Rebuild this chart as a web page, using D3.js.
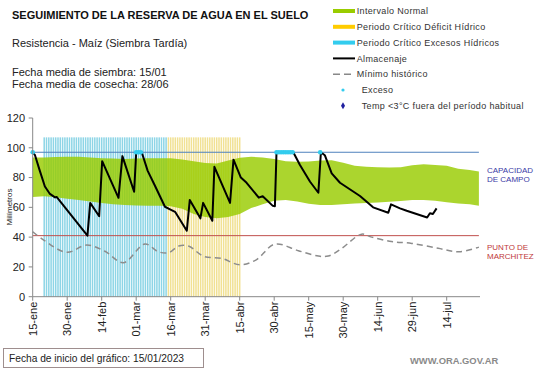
<!DOCTYPE html>
<html>
<head>
<meta charset="utf-8">
<script src="https://cdn.jsdelivr.net/npm/d3@7"></script>
<style>
  body { margin: 0; background: #fff; }
  svg { display: block; font-family: Arial, "Liberation Sans", sans-serif; }
</style>
</head>
<body>
<div id="chart"></div>
<script>
// ---- data (x = days since 15-ene) ----
var tickLabels = ["15-ene","30-ene","14-feb","01-mar","16-mar","31-mar","15-abr","30-abr","15-may","30-may","14-jun","29-jun","14-jul"];
var yTicks = [0, 20, 40, 60, 80, 100, 120];

var capacidadCampo = 97;
var puntoMarchitez = 41;
var alturaPeriodo = 107;
var periodoExcesos = [5, 58];   // first / last day
var periodoDeficit = [59, 90];

var bandaDias = [0,5,10,15,20,25,30,35,40,45,50,55,60,65,70,75,80,85,90,95,100,105,110,115,120,125,130,135,140,145,150,155,160,165,170,175,180,185,190,194];
var bandaSup  = [93.5,93.5,93.8,94,94,93.5,93,92.8,92.5,92.8,93,93,93,92.2,91,89.8,89.5,91.5,93.3,94,93.5,92.5,91,90.6,90.8,91.5,91.7,90,88,87.2,87,86.8,87,88.2,88.9,88.5,88,86,85,84];
var bandaInf  = [67,67.5,66.8,65.8,65,64,63,62,61.5,61.2,61,61,60.8,59,55.5,53.5,52.7,53.5,55.5,59.5,62,64.5,65,64,62.5,61.5,61.5,62,62.6,63,63.3,63.8,64.3,65,65,64.5,63.5,62.6,62,61];

var almacenaje = [[0,97],[1,95],[3,85],[5.3,74],[7.5,69],[9.7,66.7],[10.4,67],[23.8,41],[25,63],[28.9,54],[30.2,91],
  [37.3,66.4],[39,94.4],[44.1,70.5],[45,97],[47.4,97],[50,84.5],[53,75],[57.5,60.4],[59.7,58.7],[61.9,57],[67,44.3],
  [68.3,65],[72.9,52.6],[74.1,63],[78.1,51],[79,87.2],[85.8,63],[87.3,92],[90.5,80],[93,76.5],[98.3,66.5],[100,67.5],
  [104.4,61],[105.3,60.8],[106,97],[113.3,97],[116.2,88.4],[120.6,77.2],[124.2,69.8],[125.3,97],[127,95],[130,82.8],
  [133.6,76.5],[142.3,67.6],[148,60],[154.6,56.4],[155.8,62],[159.7,59.3],[162.6,57.7],[171.5,53.2],[172.7,56],[174,55.5],[175.6,59.3]];

var minimoHistorico = [[0,43.6],[4.8,38],[14.8,29.8],[23.5,34.7],[31.4,30.5],[39.4,22.8],[48.8,35.4],[54.6,30.2],[59,29.5],
  [63.5,34],[67.7,34],[74.5,27],[82,25.8],[90,21.5],[97,24.6],[105.3,35.3],[115.5,30.9],[124.2,27.3],[128.5,27.3],
  [134,32],[143,42],[147.4,40],[156,37],[164.8,35.8],[176.3,32.5],[185.5,30.2],[194,33.3]];

var excesoDias = [0,45,46,47,106,107,108,109,110,111,112,113,125];

var legendItems = [
  {t:"Intervalo Normal", k:"bar", c:"#99cc00"},
  {t:"Periodo Crítico Déficit Hídrico", k:"bar", c:"#ffcc00"},
  {t:"Periodo Crítico Excesos Hídricos", k:"bar", c:"#33ccee"},
  {t:"Almacenaje", k:"line", c:"#000"},
  {t:"Mínimo histórico", k:"dash", c:"#888"},
  {t:"Exceso", k:"dot", c:"#33ccee"},
  {t:"Temp <3°C fuera del período habitual", k:"diamond", c:"#1f1f9f"}
];

var W = 541, H = 368;
var svg = d3.select("#chart").append("svg").attr("width", W).attr("height", H);

var x = d3.scaleLinear().domain([0, 194]).range([32.7, 478.9]);
var y = d3.scaleLinear().domain([0, 120]).range([296.7, 118]);

// critical period stripes (one per day)
function stripes(rango, color) {
  svg.append("g").selectAll("rect")
    .data(d3.range(rango[0], rango[1] + 1))
    .enter().append("rect")
    .attr("x", function(d) { return x(d) - 0.75; })
    .attr("width", 1.5)
    .attr("y", y(alturaPeriodo))
    .attr("height", y(0) - y(alturaPeriodo))
    .attr("fill", color);
}
stripes(periodoExcesos, "#8dd5e6");
stripes(periodoDeficit, "#f1e193");

// normal interval band
var banda = bandaDias.map(function(d, i) { return [d, bandaInf[i], bandaSup[i]]; });
svg.append("path")
  .datum(banda)
  .attr("fill", "#99cc00")
  .attr("fill-opacity", 0.82)
  .attr("d", d3.area().x(function(d) { return x(d[0]); })
    .y0(function(d) { return y(d[1]); })
    .y1(function(d) { return y(d[2]); }));

// reference lines
svg.append("line").attr("x1", x(0)).attr("x2", x(194)).attr("y1", y(capacidadCampo)).attr("y2", y(capacidadCampo))
  .attr("stroke", "#4f81bd").attr("stroke-width", 1);
svg.append("line").attr("x1", x(0)).attr("x2", x(194)).attr("y1", y(puntoMarchitez)).attr("y2", y(puntoMarchitez))
  .attr("stroke", "#c0504d").attr("stroke-width", 1);

// historic minimum
svg.append("path")
  .datum(minimoHistorico)
  .attr("fill", "none")
  .attr("stroke", "#8c8c8c")
  .attr("stroke-width", 1.5)
  .attr("stroke-dasharray", "6,4")
  .attr("d", d3.line().curve(d3.curveCatmullRom.alpha(0.5))
    .x(function(d) { return x(d[0]); }).y(function(d) { return y(d[1]); }));

// storage line
svg.append("path")
  .datum(almacenaje)
  .attr("fill", "none")
  .attr("stroke", "#000")
  .attr("stroke-width", 2)
  .attr("stroke-linejoin", "round")
  .attr("d", d3.line().x(function(d) { return x(d[0]); }).y(function(d) { return y(d[1]); }));

// excess markers
svg.append("g").selectAll("circle")
  .data(excesoDias)
  .enter().append("circle")
  .attr("cx", function(d) { return x(d); })
  .attr("cy", y(capacidadCampo))
  .attr("r", 2.3)
  .attr("fill", "#33ccee");

// axes
var axisCol = "#888";
svg.append("line").attr("x1", x(0)).attr("x2", x(0)).attr("y1", y(120)).attr("y2", y(0)).attr("stroke", axisCol);
svg.append("line").attr("x1", x(0)).attr("x2", 480).attr("y1", y(0)).attr("y2", y(0)).attr("stroke", axisCol);

var yg = svg.append("g");
yg.selectAll("line").data(yTicks).enter().append("line")
  .attr("x1", x(0) - 4).attr("x2", x(0))
  .attr("y1", function(d) { return y(d); }).attr("y2", function(d) { return y(d); })
  .attr("stroke", axisCol);
yg.selectAll("text").data(yTicks).enter().append("text")
  .attr("x", 25).attr("y", function(d) { return y(d); })
  .attr("dy", "0.35em").attr("text-anchor", "end")
  .attr("font-size", 11).attr("fill", "#222")
  .text(function(d) { return d; });

var xg = svg.append("g");
xg.selectAll("line").data(tickLabels).enter().append("line")
  .attr("x1", function(d, i) { return x(i * 15); }).attr("x2", function(d, i) { return x(i * 15); })
  .attr("y1", y(0)).attr("y2", y(0) + 4)
  .attr("stroke", axisCol);
xg.selectAll("text").data(tickLabels).enter().append("text")
  .attr("transform", function(d, i) { return "translate(" + x(i * 15) + "," + (y(0) + 5) + ") rotate(-90)"; })
  .attr("dy", "0.35em").attr("text-anchor", "end")
  .attr("font-size", 11).attr("fill", "#222")
  .text(function(d) { return d; });

svg.append("text")
  .attr("transform", "translate(9,207) rotate(-90)")
  .attr("text-anchor", "middle").attr("dy", "0.35em")
  .attr("font-size", 8).attr("fill", "#222")
  .text("Milímetros");

// labels at the right of the plot
function rightLabel(lines, yy, color) {
  svg.append("text").attr("x", 487).attr("y", yy).attr("font-size", 8).attr("fill", color)
    .selectAll("tspan").data(lines).enter().append("tspan")
    .attr("x", 487).attr("dy", function(d, i) { return i ? 9 : 0; })
    .text(function(d) { return d; });
}
rightLabel(["CAPACIDAD", "DE  CAMPO"], 173, "#3b3ba6");
rightLabel(["PUNTO  DE", "MARCHITEZ"], 249.5, "#c0393b");

// titles
svg.append("text").attr("x", 12).attr("y", 19).attr("font-size", 11).attr("font-weight", "bold").attr("fill", "#111")
  .text("SEGUIMIENTO DE LA RESERVA DE AGUA EN EL SUELO");
svg.append("text").attr("x", 12).attr("y", 47).attr("font-size", 11).attr("fill", "#222")
  .text("Resistencia - Maíz (Siembra Tardía)");
svg.append("text").attr("x", 12).attr("y", 75.5).attr("font-size", 11).attr("fill", "#222")
  .text("Fecha media de siembra: 15/01");
svg.append("text").attr("x", 12).attr("y", 87.5).attr("font-size", 11).attr("fill", "#222")
  .text("Fecha media de cosecha: 28/06");

// legend
var lg = svg.append("g").selectAll("g").data(legendItems).enter().append("g")
  .attr("transform", function(d, i) { return "translate(333," + (11 + i * 15.8) + ")"; });
lg.each(function(d) {
  var g = d3.select(this);
  if (d.k == "bar") g.append("rect").attr("x", 0).attr("y", -2).attr("width", 22).attr("height", 4).attr("fill", d.c);
  if (d.k == "line") g.append("line").attr("x1", 0).attr("x2", 22).attr("stroke", d.c).attr("stroke-width", 2);
  if (d.k == "dash") g.append("line").attr("x1", 0).attr("x2", 22).attr("stroke", d.c).attr("stroke-width", 1.5).attr("stroke-dasharray", "7,4");
  if (d.k == "dot") g.append("circle").attr("cx", 10).attr("r", 1.6).attr("fill", d.c);
  if (d.k == "diamond") g.append("path").attr("d", d3.symbol(d3.symbolDiamond, 14)()).attr("transform", "translate(10,0)").attr("fill", d.c);
  g.append("text").attr("x", (d.k == "dot" || d.k == "diamond") ? 28.7 : 23.7).attr("dy", "0.35em")
    .attr("font-size", 9).attr("letter-spacing", 0.35).attr("fill", "#333").text(d.t);
});

// footer
svg.append("rect").attr("x", 3.5).attr("y", 348.5).attr("width", 200).attr("height", 19)
  .attr("fill", "#fff").attr("stroke", "#9e8e8e");
svg.append("text").attr("x", 9).attr("y", 362).attr("font-size", 10.2).attr("fill", "#222")
  .text("Fecha de inicio del gráfico:  15/01/2023");
svg.append("text").attr("x", 410).attr("y", 363.5).attr("font-size", 9.4).attr("font-weight", "bold").attr("fill", "#8a8a8a")
  .text("WWW.ORA.GOV.AR");
</script>
</body>
</html>
